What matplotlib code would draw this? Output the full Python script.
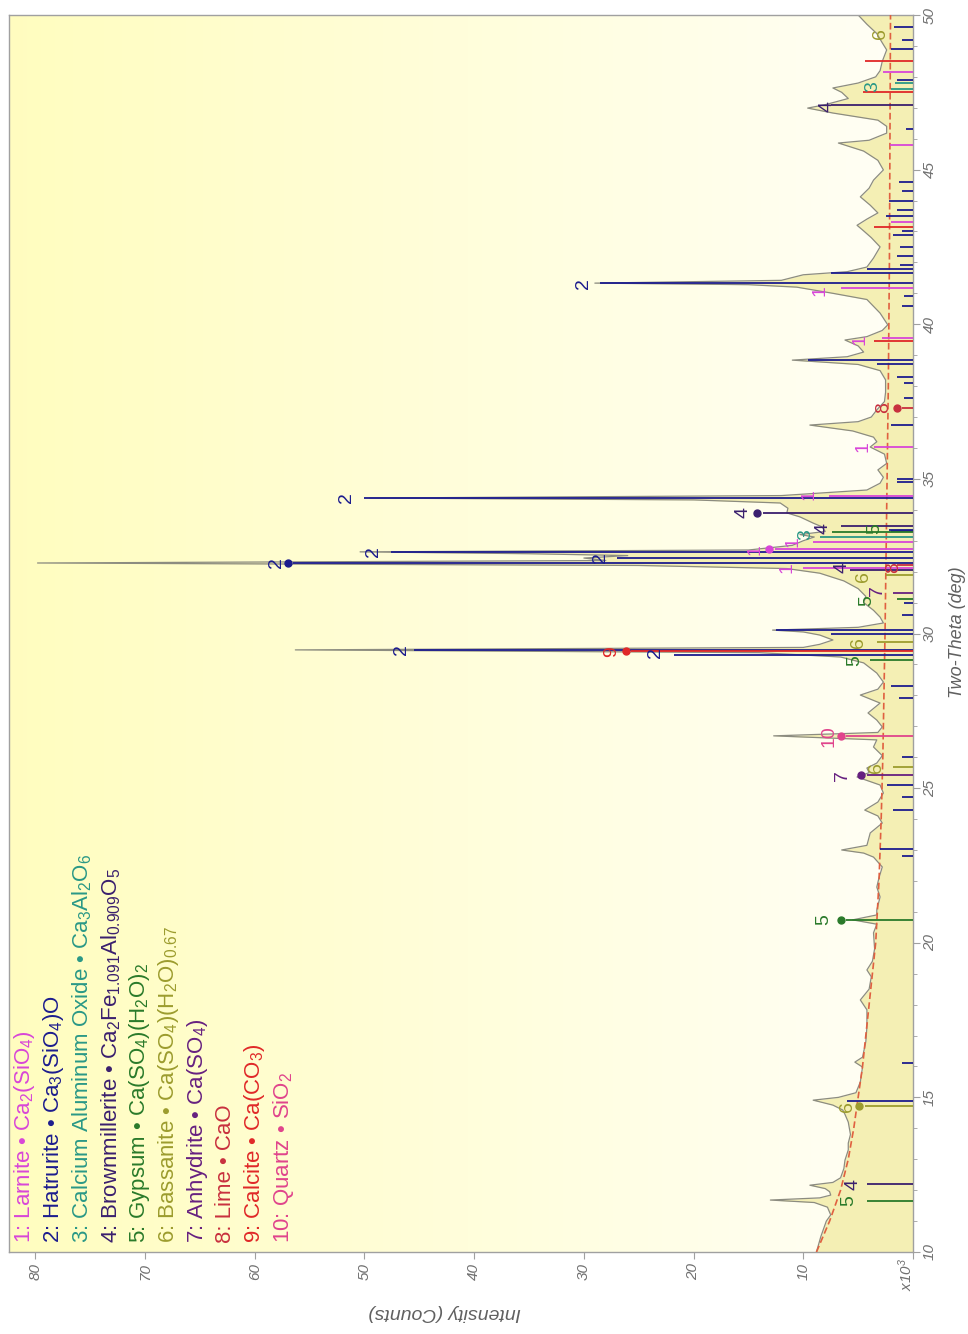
import numpy as np
import matplotlib
matplotlib.use("Agg")
import matplotlib.pyplot as plt
from matplotlib.ticker import MultipleLocator

plt.rcParams['font.family'] = ['Liberation Sans', 'DejaVu Sans']
plt.rcParams['mathtext.fontset'] = 'custom'
plt.rcParams['mathtext.rm'] = 'Liberation Sans'
plt.rcParams['mathtext.it'] = 'Liberation Sans:italic'
plt.rcParams['mathtext.default'] = 'regular'

# measured pattern (two-theta in deg, intensity in 10^3 counts)
two_theta = [10.0, 10.5, 11.0, 11.2, 11.45, 11.6, 11.68, 11.75, 11.84, 11.95, 12.05, 12.16,
             12.25, 12.4, 12.7, 12.97, 13.3, 13.52, 13.8, 14.2, 14.45, 14.59, 14.75, 14.91,
             15.0, 15.15, 15.5, 15.98, 16.14, 16.3, 16.8, 17.28, 17.83, 18.15, 18.5, 18.9,
             19.12, 19.4, 19.8, 20.32, 20.6, 20.74, 20.9, 21.06, 21.48, 21.8, 22.1, 22.45,
             22.77, 22.9, 23.0, 23.15, 23.55, 23.87, 24.1, 24.29, 24.55, 24.84, 25.1, 25.36,
             25.5, 25.65, 25.81, 26.05, 26.33, 26.56, 26.69, 26.8, 26.98, 27.2, 27.43, 27.75,
             28.01, 28.2, 28.43, 28.72, 29.05, 29.24, 29.38, 29.47, 29.55, 29.65, 29.79, 29.95,
             30.05, 30.11, 30.2, 30.34, 30.53, 30.75, 31.0, 31.2, 31.45, 31.7, 31.95, 32.1,
             32.2, 32.28, 32.36, 32.44, 32.52, 32.58, 32.64, 32.7, 32.85, 33.0, 33.12, 33.2,
             33.3, 33.45, 33.57, 33.77, 33.9, 34.05, 34.22, 34.32, 34.38, 34.46, 34.64, 34.86,
             35.05, 35.29, 35.5, 35.8, 36.03, 36.2, 36.35, 36.55, 36.74, 36.85, 37.0, 37.23,
             37.5, 37.8, 38.2, 38.5, 38.7, 38.84, 38.95, 39.1, 39.3, 39.49, 39.6, 39.8,
             39.98, 40.36, 40.8, 41.0, 41.2, 41.28, 41.33, 41.42, 41.6, 41.7, 41.85, 42.14,
             42.5, 42.8, 43.05, 43.2, 43.4, 43.6, 43.85, 44.12, 44.4, 44.66, 44.99, 45.3,
             45.6, 45.86, 45.95, 46.18, 46.4, 46.6, 46.83, 46.99, 47.1, 47.3, 47.5, 47.64,
             47.8, 48.0, 48.2, 48.5, 48.87, 49.1, 49.4, 49.7, 50.0]
counts = [8.8, 8.4, 7.9, 7.5, 7.8, 9.0, 13.0, 8.5, 7.5, 7.6, 8.0, 9.4,
          7.3, 6.6, 6.3, 6.2, 5.9, 5.9, 5.7, 5.9, 6.2, 6.4, 7.3, 9.1,
          6.8, 5.2, 4.8, 4.6, 5.3, 4.6, 4.3, 4.2, 4.2, 4.8, 4.0, 3.8,
          4.2, 3.7, 3.5, 3.6, 3.3, 5.5, 3.3, 3.3, 3.0, 3.3, 3.1, 2.8,
          3.6, 4.5, 6.5, 4.2, 3.9, 2.8, 3.2, 4.4, 3.2, 2.7, 3.0, 5.1,
          4.0, 4.2, 3.3, 2.8, 3.6, 3.3, 12.7, 3.2, 2.8, 3.3, 4.1, 3.0,
          4.8, 3.2, 2.7, 3.3, 4.5, 6.6, 14.0, 56.3, 10.0, 8.5, 7.3, 8.5,
          10.0, 12.8, 5.0, 2.7, 3.0, 3.6, 4.5, 4.3, 5.0, 6.3, 8.5, 11.5,
          25.0, 79.8, 28.0, 30.0, 26.0, 35.0, 50.4, 15.0, 11.0, 10.0, 9.0, 10.3,
          8.0, 8.3, 9.1, 10.3, 11.5, 11.4, 12.1, 20.0, 49.5, 12.0, 4.2, 3.0,
          2.7, 3.2, 2.4, 2.6, 3.9, 3.3, 3.6, 5.5, 9.4, 5.0, 3.8, 3.3,
          2.6, 2.5, 2.5, 3.0, 5.0, 11.0, 6.0, 4.5, 5.0, 6.2, 4.2, 2.8,
          2.3, 3.0, 4.2, 7.3, 10.6, 15.0, 29.0, 12.0, 10.0, 6.0, 4.2, 3.6,
          3.0, 3.8, 4.6, 5.1, 4.2, 3.2, 3.9, 4.8, 4.0, 3.6, 2.7, 3.2,
          4.5, 6.8, 4.0, 2.4, 2.4, 3.2, 7.3, 9.6, 8.0, 5.9, 6.5, 7.3,
          5.0, 3.4, 3.0, 2.8, 2.4, 2.8, 3.3, 4.2, 5.0]

# fitted background
bg_theta = [10, 11, 12, 13, 14, 15, 16, 17, 18, 20, 22, 24, 26, 28, 30, 34, 38, 42, 46, 50]
bg_counts = [8.8, 7.6, 6.6, 5.9, 5.4, 5.0, 4.6, 4.3, 4.0, 3.4, 3.1, 2.9, 2.75, 2.65, 2.55,
             2.4, 2.25, 2.15, 2.1, 2.05]

phases = ["Larnite", "Hatrurite", "Calcium Aluminum Oxide", "Brownmillerite", "Gypsum",
          "Bassanite", "Anhydrite", "Lime", "Calcite", "Quartz"]
formulas = ["Ca$_2$(SiO$_4$)", "Ca$_3$(SiO$_4$)O", "Ca$_3$Al$_2$O$_6$",
            "Ca$_2$Fe$_{1.091}$Al$_{0.909}$O$_5$", "Ca(SO$_4$)(H$_2$O)$_2$",
            "Ca(SO$_4$)(H$_2$O)$_{0.67}$", "Ca(SO$_4$)", "CaO", "Ca(CO$_3$)", "SiO$_2$"]
phase_colors = ['#d846d8', '#1c1c8e', '#2a9886', '#3a1f6e', '#2a7a2a',
                '#9c9c2e', '#662080', '#c8303e', '#e02828', '#e0448c']

# reference sticks: (two-theta, intensity, phase number)
sticks = [
    (32.73, 12.6, 1), (32.96, 9.1, 1), (32.12, 10.0, 1), (34.45, 7.7, 1), (36.03, 3.6, 1),
    (39.55, 2.8, 1), (41.17, 6.6, 1), (45.8, 2.1, 1), (48.16, 2.7, 1), (43.3, 2.0, 1),
    (32.28, 56.5, 2), (32.64, 47.6, 2), (32.44, 27.0, 2), (34.38, 50.0, 2), (29.47, 45.5, 2),
    (29.3, 21.8, 2), (30.11, 12.5, 2), (29.98, 7.5, 2), (41.33, 28.5, 2), (41.66, 7.5, 2),
    (41.79, 4.2, 2), (38.84, 9.6, 2), (38.7, 3.3, 2), (36.74, 2.0, 2), (23.02, 3.0, 2),
    (24.29, 1.8, 2), (25.1, 2.4, 2), (28.3, 2.0, 2), (16.1, 1.0, 2), (14.89, 6.0, 2),
    (42.2, 1.5, 2), (42.5, 1.2, 2), (42.9, 1.8, 2), (43.0, 1.0, 2), (43.5, 2.5, 2),
    (43.7, 1.5, 2), (44.0, 2.2, 2), (44.3, 1.0, 2), (44.6, 1.3, 2), (41.9, 1.2, 2),
    (40.6, 1.0, 2), (40.9, 0.8, 2), (38.3, 1.5, 2), (38.1, 0.8, 2), (37.6, 0.8, 2),
    (35.0, 1.5, 2), (34.9, 1.5, 2), (33.3, 2.0, 2), (33.35, 2.2, 2), (31.0, 0.8, 2),
    (30.6, 1.0, 2), (27.9, 1.3, 2), (26.0, 1.0, 2), (24.7, 1.0, 2), (22.8, 1.0, 2),
    (47.9, 1.5, 2), (48.9, 2.0, 2), (49.2, 1.0, 2), (49.6, 1.7, 2), (46.3, 0.6, 2),
    (33.12, 8.5, 3), (47.6, 2.0, 3), (47.8, 1.6, 3),
    (33.9, 13.7, 4), (33.48, 6.6, 4), (32.05, 5.7, 4), (47.09, 7.5, 4), (12.19, 4.2, 4),
    (33.28, 7.4, 5), (31.1, 1.5, 5), (29.14, 3.9, 5), (20.74, 6.1, 5), (11.65, 4.2, 5),
    (14.71, 4.4, 6), (25.68, 1.8, 6), (29.72, 3.3, 6), (31.9, 2.5, 6),
    (25.42, 4.2, 7), (31.3, 1.8, 7),
    (37.3, 1.0, 8), (32.2, 1.5, 8),
    (29.42, 25.7, 9), (39.45, 3.6, 9), (43.15, 3.6, 9), (47.5, 4.6, 9), (48.51, 4.4, 9),
    (26.67, 6.1, 10),
]
dotted = [(32.28, 56.5, 2), (32.73, 12.6, 1), (33.9, 13.7, 4), (29.42, 25.7, 9),
          (26.67, 6.1, 10), (25.42, 4.2, 7), (20.74, 6.1, 5), (14.71, 4.4, 6), (37.3, 1.0, 8)]

# peak labels: (phase number, intensity position, two-theta)
peak_labels = [
    (2, 30.0, 41.33), (1, 8.5, 41.1), (1, 4.8, 39.49), (4, 7.8, 47.03), (3, 3.7, 47.67),
    (6, 3.0, 49.4), (8, 2.7, 37.29), (1, 4.6, 36.03), (2, 51.6, 34.4), (1, 9.5, 34.48),
    (4, 15.5, 33.9), (4, 8.2, 33.38), (5, 3.5, 33.38), (3, 9.8, 33.2), (1, 10.9, 32.96),
    (1, 14.4, 32.7), (2, 49.2, 32.64), (2, 28.5, 32.47), (2, 58.0, 32.28), (1, 11.5, 32.12),
    (4, 6.5, 32.12), (8, 1.8, 32.12), (6, 4.5, 31.83), (7, 3.2, 31.4), (5, 4.2, 31.08),
    (6, 5.0, 29.72), (2, 46.6, 29.47), (9, 27.5, 29.4), (2, 23.5, 29.37), (5, 5.3, 29.14),
    (10, 7.7, 26.69), (6, 3.3, 25.68), (7, 6.4, 25.42), (5, 8.1, 20.74), (6, 6.0, 14.69),
    (4, 5.5, 12.19), (5, 5.9, 11.65),
]

W, H = 968, 1334
fig = plt.figure(figsize=(W / 100, H / 100), dpi=100)
ax = fig.add_axes([9 / W, 1 - 1252 / H, (913 - 9) / W, (1252 - 15) / H])
x_left = 82.4
ax.set_xlim(x_left, 0)
ax.set_ylim(10, 50)

# yellow gradient backdrop
c_left = np.array([1.0, 0.992, 0.75])
c_right = np.array([1.0, 1.0, 0.965])
t = np.linspace(0, 1, 256)
grad = (c_left[None, :] * (1 - t[:, None]) + c_right[None, :] * t[:, None])[None, :, :]
ax.imshow(grad, extent=[x_left, 0, 10, 50], aspect='auto', zorder=0)

ax.fill_betweenx(two_theta, counts, 0, color='#f4efb4', zorder=1, lw=0)
ax.plot(counts, two_theta, color='#8c8c80', lw=0.9, zorder=2)
ax.plot(bg_counts, bg_theta, color='#e06040', lw=1.2, ls=(0, (4, 2)), zorder=3)

for tt, inten, ph in sticks:
    ax.plot([0, inten], [tt, tt], color=phase_colors[ph - 1], lw=1.3, zorder=4,
            solid_capstyle='butt')
for tt, inten, ph in dotted:
    ax.plot(inten + 0.5, tt, 'o', color=phase_colors[ph - 1], ms=5, zorder=5)
for ph, inten, tt in peak_labels:
    ax.text(inten, tt, str(ph), color=phase_colors[ph - 1], fontsize=14, rotation=90,
            ha='center', va='center', zorder=6)

# axes styling
for side in ['left', 'top', 'right', 'bottom']:
    ax.spines[side].set_color('#a0a0a0')
    ax.spines[side].set_linewidth(1.0)
ax.yaxis.tick_right()
ax.set_xticks(range(0, 90, 10))
ax.set_xticklabels([''] + [str(v) for v in range(10, 90, 10)])
ax.yaxis.set_major_locator(MultipleLocator(5))
ax.yaxis.set_minor_locator(MultipleLocator(1))
ax.tick_params(axis='x', direction='out', length=5, color='#a0a0a0', labelsize=11,
               labelcolor='#707070', labelrotation=90, pad=3)
ax.tick_params(axis='y', which='major', direction='out', length=5, color='#a0a0a0',
               labelsize=11, labelcolor='#707070', labelrotation=90, pad=2)
ax.tick_params(axis='y', which='minor', direction='out', length=3, color='#a0a0a0')
for lab in ax.get_xticklabels() + ax.get_yticklabels():
    lab.set_fontstyle('italic')
for lab in ax.get_yticklabels():
    lab.set_verticalalignment('center')

fig.text(957 / W, 1 - 632 / H, 'Two-Theta (deg)', rotation=90, ha='center', va='center',
         fontsize=13, style='italic', color='#606060')
fig.text(445 / W, 1 - 1312 / H, 'Intensity (Counts)', rotation=180, ha='center',
         va='center', fontsize=14, style='italic', color='#606060')
fig.text(906 / W, 1 - 1258 / H, 'x10$^3$', rotation=90, ha='center', va='top',
         fontsize=11, style='italic', color='#707070')

# phase legend
for i, (name, formula) in enumerate(zip(phases, formulas)):
    fig.text((25 + i * 28.7) / W, 1 - 1243 / H, f"{i + 1}: {name} \u2022 {formula}",
             rotation=90, ha='center', va='bottom', fontsize=16, color=phase_colors[i])

fig.savefig('out.png', dpi=100)
